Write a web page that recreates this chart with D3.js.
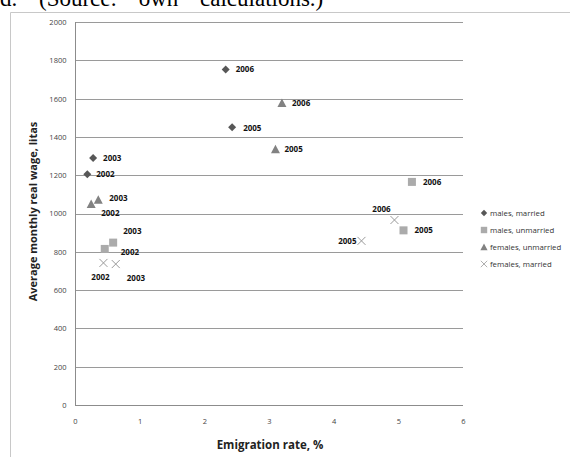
<!DOCTYPE html>
<html>
<head>
<meta charset="utf-8">
<script src="https://cdn.jsdelivr.net/npm/d3@7"></script>
<style>
  html, body { margin: 0; padding: 0; background: #fff; }
  svg { display: block; }
</style>
</head>
<body>
<div id="chart"></div>
<script>
// Emigration rate (%) vs. average monthly real wage (litas), by group and year
const years = ["2002", "2003", "2005", "2006"];
const seriesNames = ["males, married", "males, unmarried", "females, unmarried", "females, married"];

const malesMarriedRate   = [0.19, 0.28, 2.43, 2.33];
const malesMarriedWage   = [1205, 1290, 1450, 1752];
const malesUnmarriedRate = [0.46, 0.59, 5.08, 5.21];
const malesUnmarriedWage = [815, 848, 912, 1165];
const femalesUnmarriedRate = [0.25, 0.36, 3.10, 3.20];
const femalesUnmarriedWage = [1050, 1072, 1335, 1577];
const femalesMarriedRate = [0.44, 0.63, 4.43, 4.94];
const femalesMarriedWage = [742, 736, 857, 966];

const xTicks = [0, 1, 2, 3, 4, 5, 6];
const yTicks = [0, 200, 400, 600, 800, 1000, 1200, 1400, 1600, 1800, 2000];

// Year-label placement relative to each marker (dx, dy in px; anchor)
const labelPlacement = [
  [[9, 0, "start"], [10, 0, "start"], [11, 1, "start"], [10, 0, "start"]],
  [[16, 3, "start"], [10, -11, "start"], [11, 0, "start"], [11, 0, "start"]],
  [[10, 9, "start"], [11, -2, "start"], [9, 0, "start"], [10, 0, "start"]],
  [[-3, 14, "middle"], [11, 14, "start"], [-5, 0, "end"], [-13, -11, "middle"]]
];

const W = 570, H = 457;
const margin = { left: 75, right: 107, top: 22, bottom: 52 };

const svg = d3.select("#chart").append("svg")
  .attr("width", W).attr("height", H);

// Caption line running off the top edge
svg.append("text")
  .attr("x", 0).attr("y", 6)
  .attr("font-family", "Liberation Serif, serif")
  .attr("font-size", 23)
  .attr("word-spacing", 16)
  .attr("fill", "#000")
  .text("d. (Source: own calculations.)");

// Chart frame
svg.append("path")
  .attr("d", `M10.5,${H} V12.5 H${W}`)
  .attr("fill", "none").attr("stroke", "#c8c8c8").attr("stroke-width", 1);

const x = d3.scaleLinear().domain([0, 6]).range([margin.left, W - margin.right]);
const y = d3.scaleLinear().domain([0, 2000]).range([H - margin.bottom, margin.top]);

// Horizontal gridlines
svg.append("g")
  .selectAll("line")
  .data(yTicks.filter(d => d > 0))
  .join("line")
  .attr("x1", x(0)).attr("x2", x(6))
  .attr("y1", d => Math.round(y(d)) + 0.5).attr("y2", d => Math.round(y(d)) + 0.5)
  .attr("stroke", "#9a9a9a").attr("stroke-width", 1);

// Axes
const xAxis = d3.axisBottom(x).tickValues(xTicks).tickSize(0).tickPadding(13).tickFormat(d3.format("d"));
const yAxis = d3.axisLeft(y).tickValues(yTicks).tickSize(0).tickPadding(9).tickFormat(d3.format("d"));

const gx = svg.append("g").attr("transform", `translate(0,${Math.round(y(0)) + 0.5})`).call(xAxis);
const gy = svg.append("g").attr("transform", `translate(${Math.round(x(0)) + 0.5},0)`).call(yAxis);
[gx, gy].forEach(g => {
  g.select(".domain").attr("stroke", "#8c8c8c");
  g.selectAll("text")
    .attr("font-family", "Open Sans, Liberation Sans, sans-serif")
    .attr("font-size", 7.5)
    .attr("fill", "#444");
});
gx.select(".domain").attr("d", `M${x(0)},0H${x(6)}`);
gy.select(".domain").attr("d", `M0,${y(2000)}V${y(0)}`);

// Axis titles
svg.append("text")
  .attr("x", 270).attr("y", 449)
  .attr("text-anchor", "middle")
  .attr("font-family", "Open Sans, Liberation Sans, sans-serif")
  .attr("font-weight", "bold").attr("font-size", 11.5)
  .attr("fill", "#222")
  .text("Emigration rate, %");

svg.append("text")
  .attr("transform", `translate(37,${y(1000) - 2}) rotate(-90)`)
  .attr("text-anchor", "middle")
  .attr("font-family", "Open Sans, Liberation Sans, sans-serif")
  .attr("font-weight", "bold").attr("font-size", 11)
  .attr("fill", "#222")
  .text("Average monthly real wage, litas");

// Series definitions
const series = [
  { name: seriesNames[0], rate: malesMarriedRate, wage: malesMarriedWage, shape: "diamond", color: "#575757" },
  { name: seriesNames[1], rate: malesUnmarriedRate, wage: malesUnmarriedWage, shape: "square", color: "#ababab" },
  { name: seriesNames[2], rate: femalesUnmarriedRate, wage: femalesUnmarriedWage, shape: "triangle", color: "#828282" },
  { name: seriesNames[3], rate: femalesMarriedRate, wage: femalesMarriedWage, shape: "cross", color: "#9a9a9a" }
];

function drawMarker(g, shape, color) {
  if (shape === "diamond") {
    g.append("path").attr("d", "M0,-4L4,0L0,4L-4,0Z").attr("fill", color);
  } else if (shape === "square") {
    g.append("rect").attr("x", -4).attr("y", -4).attr("width", 8).attr("height", 8).attr("fill", color);
  } else if (shape === "triangle") {
    g.append("path").attr("d", "M0,-4.5L4.5,4L-4.5,4Z").attr("fill", color);
  } else {
    g.append("path").attr("d", "M-4,-4L4,4M4,-4L-4,4")
      .attr("stroke", color).attr("stroke-width", 1).attr("fill", "none");
  }
}

const labelFont = "Open Sans, Liberation Sans, sans-serif";

series.forEach((s, si) => {
  const pts = years.map((yr, i) => ({ year: yr, rx: s.rate[i], wy: s.wage[i], place: labelPlacement[si][i] }));
  const g = svg.append("g");
  pts.forEach(p => {
    const m = g.append("g").attr("transform", `translate(${x(p.rx)},${y(p.wy)})`);
    drawMarker(m, s.shape, s.color);
    m.append("text")
      .attr("x", p.place[0]).attr("y", p.place[1])
      .attr("dy", "0.35em")
      .attr("text-anchor", p.place[2])
      .attr("font-family", labelFont)
      .attr("font-weight", "bold").attr("font-size", 8)
      .attr("fill", "#111")
      .text(p.year);
  });
});

// Legend
const legend = svg.append("g").attr("transform", "translate(484,213)");
series.forEach((s, i) => {
  const row = legend.append("g").attr("transform", `translate(0,${i * 17})`);
  const m = row.append("g").attr("transform", "scale(0.8)");
  drawMarker(m, s.shape, s.color);
  row.append("text")
    .attr("x", 6).attr("dy", "0.35em")
    .attr("font-family", labelFont)
    .attr("font-size", 7.8)
    .attr("fill", "#333")
    .text(s.name);
});
</script>
</body>
</html>
